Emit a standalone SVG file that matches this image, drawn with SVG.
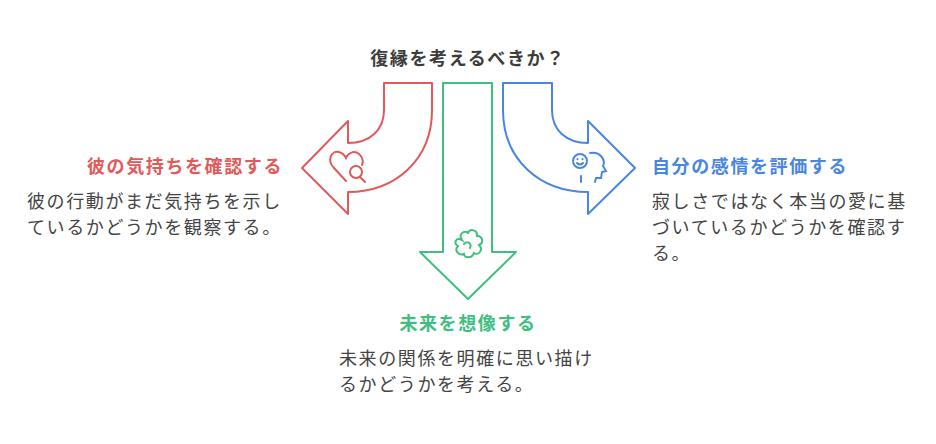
<svg xmlns="http://www.w3.org/2000/svg" width="936" height="444" viewBox="0 0 936 444">
<style>
text{font-family:"Noto Sans CJK JP","Noto Sans",sans-serif;letter-spacing:1.6px}
.t{font-size:18px;font-weight:bold;fill:#3c3c3c}
.h{font-size:18px;font-weight:bold}
.b{font-size:18px;fill:#444}
.s{fill:#fff;stroke-width:2;stroke-linejoin:round}
.i{fill:none;stroke-width:2;stroke-linecap:round}
</style>
<rect width="936" height="444" fill="#fff"/>
<text class="t" x="468" y="65" text-anchor="middle">復縁を考えるべきか？</text>
<g id="connectors">
<path class="s" stroke="#e05a5a" d="M384,83 L432,83 L432,110 C432,160 395,192 348,192 L348,214 L302,168 L348,121 L348,143 C370,143 384,130 384,110 Z"/>
<path class="s" stroke="#3fbf7f" d="M443,83 L492,83 L492,252 L516,252 L468,299 L420,252 L443,252 Z"/>
<path class="s" stroke="#4a86e0" d="M552,83 L503,83 L503,110 C503,160 540,192 588,192 L588,214 L635,168 L588,121 L588,143 C566,143 552,130 552,110 Z"/>
</g>
<g id="n1">
<path class="i" stroke="#e05a5a" d="M346,181 L334,168 C326,160 332,150 339,152 C343,153 345,156 346,158 C348,153 354,150 359,154 C364,158 363,163 362,165"/>
<circle class="i" stroke="#e05a5a" cx="356" cy="172" r="6"/>
<path class="i" stroke="#e05a5a" d="M360,177 L365,182"/>
<text class="h" fill="#e05a5a" x="283" y="173" text-anchor="end">彼の気持ちを確認する</text>
<text class="b" x="27" y="208">彼の行動がまだ気持ちを示し</text>
<text class="b" x="27" y="234">ているかどうかを観察する。</text>
</g>
<g id="n2">
<path class="i" stroke="#3fbf7f" d="M462,240 C458,234 464,230 468,233 C470,228 478,230 477,236 C483,236 484,243 479,245 C484,250 478,256 474,253 C472,259 464,258 464,254 C458,256 454,250 458,246 C453,243 456,237 462,240 Z M464,244 C468,240 472,244 470,248"/>
<text class="h" fill="#3fbf7f" x="468" y="330" text-anchor="middle">未来を想像する</text>
<text class="b" x="339" y="365">未来の関係を明確に思い描け</text>
<text class="b" x="339" y="391">るかどうかを考える。</text>
</g>
<g id="n3">
<circle class="i" stroke="#4a86e0" cx="580" cy="161" r="7"/>
<path class="i" stroke="#4a86e0" d="M577,163 Q580,166 583,163 M577.5,159 L577.5,159.2 M582.5,159 L582.5,159.2 M581,176 L581,182 M590,153 C600,151 606,160 603,166 L606,171 L602,172 L601,178 L596,178 L595,182"/>
<text class="h" fill="#4a86e0" x="652" y="173">自分の感情を評価する</text>
<text class="b" x="652" y="208">寂しさではなく本当の愛に基</text>
<text class="b" x="652" y="234">づいているかどうかを確認す</text>
<text class="b" x="652" y="260">る。</text>
</g>
</svg>
